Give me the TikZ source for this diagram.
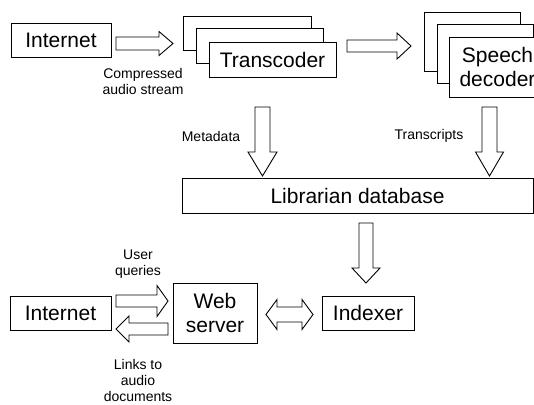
\documentclass[tikz,border=0pt]{standalone}
\usepackage{fontspec}
\setmainfont{Liberation Sans}
\usetikzlibrary{calc}
\tikzset{
  box/.style={draw, line width=0.9pt, fill=white, inner sep=0pt, align=center,
    font=\fontsize{21}{24}\selectfont},
  lbl/.style={align=center, inner sep=0pt, font=\fontsize{14}{16}\selectfont},
  fat/.style={draw, line width=0.9pt, fill=white, line join=miter},
}
% from, to, shaft half width, head half width, head length
\newcommand\fatarrow[5]{%
  \coordinate (fa-c) at ($(#2)!#5!(#1)$);
  \draw[fat] ($(#1)!#3!90:(#2)$) -- ($(fa-c)!#3!90:(#2)$) -- ($(fa-c)!#4!90:(#2)$)
    -- (#2) -- ($(fa-c)!#4!-90:(#2)$) -- ($(fa-c)!#3!-90:(#2)$)
    -- ($(#1)!#3!-90:(#2)$) -- cycle;
}
\newcommand\dblarrow[5]{%
  \coordinate (fa-a) at ($(#1)!#5!(#2)$);
  \coordinate (fa-b) at ($(#2)!#5!(#1)$);
  \draw[fat] (#1) -- ($(fa-a)!#4!90:(#2)$) -- ($(fa-a)!#3!90:(#2)$)
    -- ($(fa-b)!#3!90:(#2)$) -- ($(fa-b)!#4!90:(#2)$) -- (#2)
    -- ($(fa-b)!#4!-90:(#2)$) -- ($(fa-b)!#3!-90:(#2)$)
    -- ($(fa-a)!#3!-90:(#2)$) -- ($(fa-a)!#4!-90:(#2)$) -- cycle;
}
\begin{document}
\begin{tikzpicture}[x=1pt,y=-1pt]
\useasboundingbox (0,0) rectangle (534,404);

% boxes
\node[box, minimum width=100pt, minimum height=34pt] (inet1) at (61,40) {Internet};

\node[box, minimum width=128pt, minimum height=34pt] (tc1) at (247,33) {};
\node[box, minimum width=127pt, minimum height=35pt] (tc2) at (259.5,45.5) {};
\node[box, minimum width=127pt, minimum height=35pt] (tc3) at (272.5,59.5) {Transcoder};

\node[box, minimum width=96pt, minimum height=59pt] (sd1) at (472,41.5) {};
\node[box, minimum width=96pt, minimum height=59pt] (sd2) at (485,53.5) {};
\node[box, minimum width=97pt, minimum height=60pt] (sd3) at (497.5,67) {Speech\\decoder};

\node[box, minimum width=351pt, minimum height=35pt] (lib) at (357.5,195.5) {Librarian database};

\node[box, minimum width=101pt, minimum height=34pt] (inet2) at (60.5,313) {Internet};
\node[box, minimum width=84pt, minimum height=60pt] (web) at (215,313) {Web\\server};
\node[box, minimum width=92pt, minimum height=34pt] (idx) at (368,313) {Indexer};

% labels
\node[lbl] (lcomp) at (143,81) {Compressed\\audio stream};
\node[lbl] (lmeta) at (211,136) {Metadata};
\node[lbl] (ltrans) at (429,136) {Transcripts};
\node[lbl] (luser) at (138,264.5) {User\\queries};
\node[lbl] (llinks) at (138,380) {Links to\\audio\\documents};

% arrow end points
\coordinate (a1s) at (116,43.5);  \coordinate (a1e) at (173,43.5);
\coordinate (a2s) at (347,46);    \coordinate (a2e) at (411,46);
\coordinate (a3s) at (262.5,107); \coordinate (a3e) at (262.5,176);
\coordinate (a4s) at (489.5,107); \coordinate (a4e) at (489.5,176);
\coordinate (a5s) at (366,223);   \coordinate (a5e) at (366,283);
\coordinate (a6s) at (116,301);   \coordinate (a6e) at (168,301);
\coordinate (a7s) at (168,329);   \coordinate (a7e) at (116,329);
\coordinate (a8s) at (266,314.5); \coordinate (a8e) at (313,314.5);

\fatarrow{a1s}{a1e}{6.5pt}{12pt}{14pt}
\fatarrow{a2s}{a2e}{6pt}{13pt}{14pt}
\fatarrow{a3s}{a3e}{7.5pt}{14.5pt}{24pt}
\fatarrow{a4s}{a4e}{7.5pt}{14pt}{24pt}
\fatarrow{a5s}{a5e}{7pt}{14pt}{15pt}
\fatarrow{a6s}{a6e}{6pt}{15.5pt}{11pt}
\fatarrow{a7s}{a7e}{6pt}{13pt}{13pt}
\dblarrow{a8s}{a8e}{7.5pt}{15pt}{11pt}
\end{tikzpicture}
\end{document}
